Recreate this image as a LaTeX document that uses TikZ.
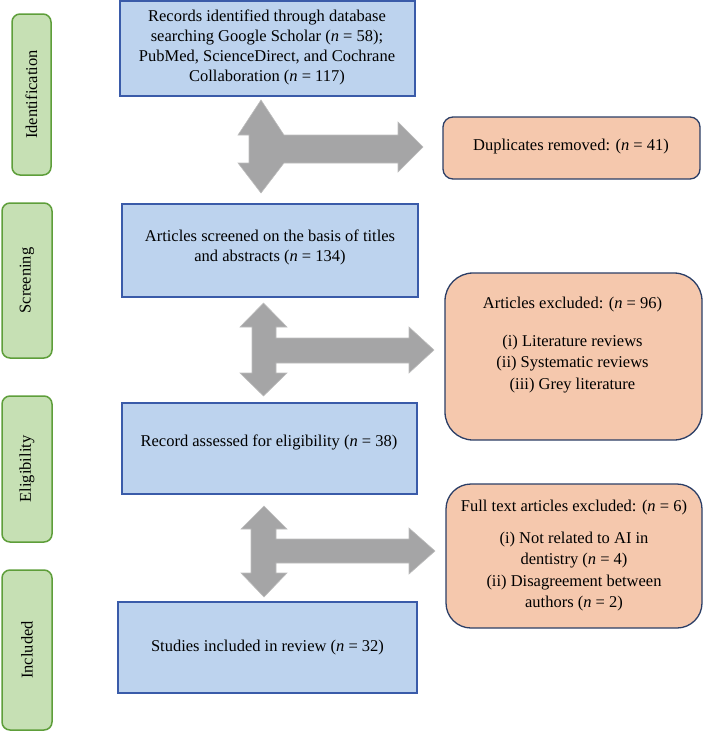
\documentclass[tikz,border=0pt]{standalone}
\usepackage{fontspec}
\setmainfont{Liberation Serif}
\definecolor{bluefill}{HTML}{BDD3EE}
\definecolor{blueline}{HTML}{3A5BA9}
\definecolor{orfill}{HTML}{F5C8AD}
\definecolor{orline}{HTML}{2B3E66}
\definecolor{grfill}{HTML}{C6E0B4}
\definecolor{grline}{HTML}{5E9E3A}
\definecolor{arfill}{HTML}{A5A5A6}
\definecolor{arline}{HTML}{BDBDBD}
\tikzset{
 stage/.style={draw=grline, fill=grfill, line width=1.5pt, rounded corners=8pt, inner sep=0pt},
 bluebox/.style={draw=blueline, fill=bluefill, line width=1.5pt, inner sep=0pt},
 orbox/.style={draw=orline, fill=orfill, line width=1.3pt, inner sep=0pt},
 txt/.style={font=\fontsize{16.5}{20}\selectfont, align=center, inner sep=0pt},
 listtxt/.style={font=\fontsize{16.5}{21.3}\selectfont, align=center, inner sep=0pt},
 bigarrow/.style={fill=arfill, draw=arline, line width=0.6pt},
}
\begin{document}
\begin{tikzpicture}[x=1pt,y=-1pt]
\useasboundingbox (0,0) rectangle (706,731);
% stage labels
\node[stage, minimum width=39pt, minimum height=161pt] (g1) at (31.5,94.5) {};
\node[txt, rotate=90] (g1t) at (g1.center) {Identification};
\node[stage, minimum width=50pt, minimum height=155pt] (g2) at (27,280.5) {};
\node[txt, rotate=90] (g2t) at (g2.center) {Screening};
\node[stage, minimum width=50pt, minimum height=146pt] (g3) at (27,469) {};
\node[txt, rotate=90] (g3t) at (g3.center) {Eligibility};
\node[stage, minimum width=50pt, minimum height=160pt] (g4) at (27,650) {};
\node[txt, rotate=90] (g4t) at (g4.center) {Included};
% blue boxes
\node[bluebox, minimum width=295pt, minimum height=95pt] (b1) at (267.5,48.5) {};
\node[txt] (b1t) at (267,47) {Records identified through database\\searching Google Scholar (\textit{n} = 58);\\PubMed, ScienceDirect, and Cochrane\\Collaboration (\textit{n} = 117)};
\node[bluebox, minimum width=296pt, minimum height=93pt] (b2) at (270,250.5) {};
\node[txt] (b2t) at (270,247) {Articles screened on the basis of titles\\and abstracts (\textit{n} = 134)};
\node[bluebox, minimum width=295pt, minimum height=91pt] (b3) at (269.5,448.5) {};
\node[txt] (b3t) at (269,442) {Record assessed for eligibility (\textit{n} = 38)};
\node[bluebox, minimum width=299pt, minimum height=91pt] (b4) at (267.5,647.5) {};
\node[txt] (b4t) at (267.5,648) {Studies included in review (\textit{n} = 32)};
% orange boxes
\node[orbox, rounded corners=10pt, minimum width=257pt, minimum height=62pt] (o1) at (571.5,148) {};
\node[txt] (o1t) at (571,147) {Duplicates removed: (\textit{n} = 41)};
\node[orbox, rounded corners=28pt, minimum width=257pt, minimum height=167pt] (o2) at (573.5,356.5) {};
\node[txt] (o2t) at (572.5,305) {Articles excluded: (\textit{n} = 96)};
\node[listtxt, anchor=north] (o2l) at (572.5,335) {(i) Literature reviews\\(ii) Systematic reviews\\(iii) Grey literature};
\node[orbox, rounded corners=25pt, minimum width=256pt, minimum height=144pt] (o3) at (574,556) {};
\node[txt] (o3t) at (574,508) {Full text articles excluded: (\textit{n} = 6)};
\node[listtxt, anchor=north] (o3l) at (574,532) {(i) Not related to AI in\\dentistry (\textit{n} = 4)\\(ii) Disagreement between\\authors (\textit{n} = 2)};
% block arrows
\draw[bigarrow] (261,100) -- (284,135) -- (398,135) -- (398,122) -- (423,147) -- (398,172) -- (398,163) -- (284,163) -- (261,193) -- (238,163) -- (249,163) -- (249,135) -- (238,135) -- cycle;
\draw[bigarrow] (263.5,303) -- (287,327) -- (276,327) -- (276,338) -- (409,338) -- (409,327) -- (434,350) -- (409,373) -- (409,363) -- (276,363) -- (276,373) -- (287,373) -- (263.5,396) -- (240,373) -- (252,373) -- (252,327) -- (240,327) -- cycle;
\draw[bigarrow] (264,506) -- (287,529) -- (276,529) -- (276,539) -- (409,539) -- (409,528) -- (435,551) -- (409,574) -- (409,563) -- (276,563) -- (276,573) -- (287,573) -- (264,597) -- (241,573) -- (251,573) -- (251,529) -- (241,529) -- cycle;
\end{tikzpicture}
\end{document}
